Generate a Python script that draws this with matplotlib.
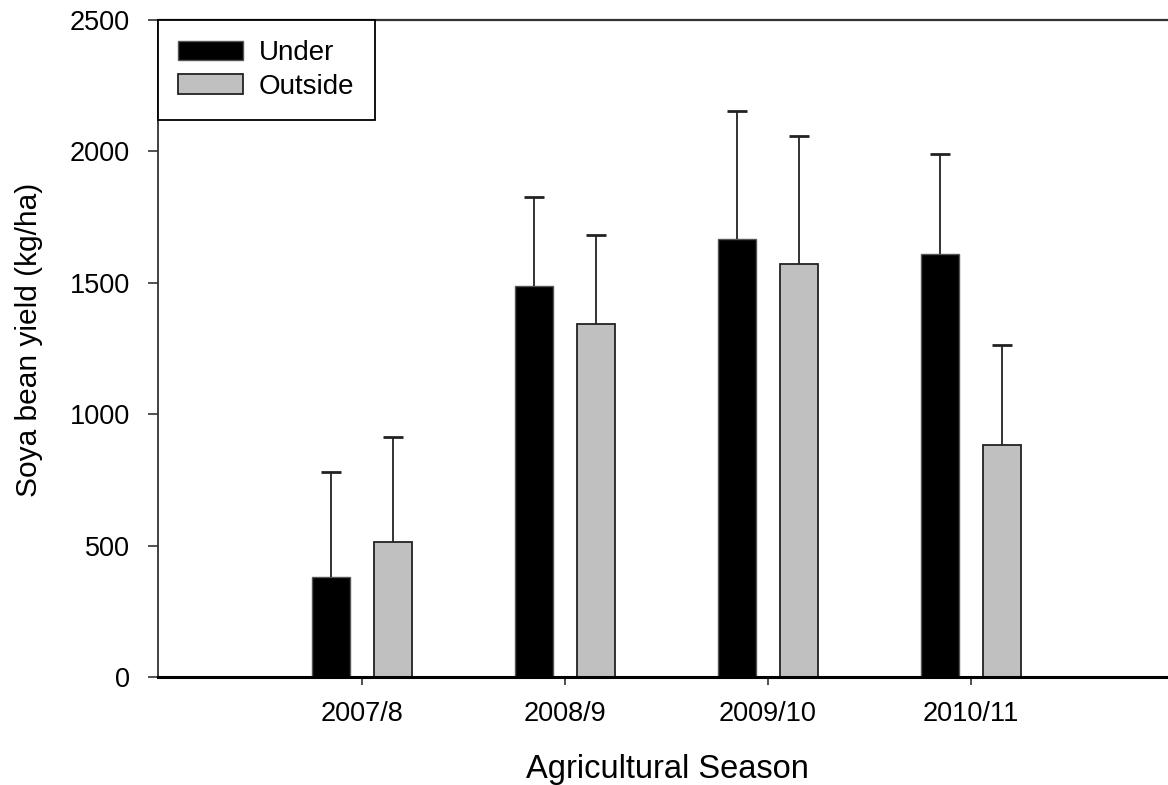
import numpy as np
import matplotlib.pyplot as plt

plt.rcParams['font.family'] = ['Liberation Sans', 'DejaVu Sans']

seasons = ['2007/8', '2008/9', '2009/10', '2010/11']
under = [382, 1488, 1667, 1610]
under_err = [399, 338, 487, 379]
outside = [514, 1344, 1572, 882]
outside_err = [400, 339, 487, 382]

x = np.arange(len(seasons))
w = 0.187
off = 0.152

fig = plt.figure(figsize=(11.68, 7.85), dpi=100)
ax = fig.add_axes([158/1168, 1-677/785, 1-158/1168, (677-20)/785])

ekw = dict(elinewidth=1.3, capthick=2.0, ecolor='#222222')
b1 = ax.bar(x-off, under, w, color='black', edgecolor='#555555', linewidth=1,
            yerr=[np.zeros(4), under_err], capsize=7, error_kw=ekw, label='Under')
b2 = ax.bar(x+off, outside, w, color='#c0c0c0', edgecolor='#222222', linewidth=1.3,
            yerr=[np.zeros(4), outside_err], capsize=7, error_kw=ekw, label='Outside')

# only the upper whisker gets a cap
for bars, vals in [(b1, under), (b2, outside)]:
    for cap in bars.errorbar.lines[1]:
        if np.allclose(cap.get_ydata(), vals):
            cap.set_visible(False)

ax.set_xlim(-1.005, 3.97)
ax.set_ylim(0, 2500)
ax.set_xticks(x)
ax.set_xticklabels(seasons)
ax.set_yticks([0, 500, 1000, 1500, 2000, 2500])

ax.spines['right'].set_visible(False)
ax.spines['left'].set_linewidth(1.3)
ax.spines['left'].set_color('#333333')
ax.spines['top'].set_linewidth(1.6)
ax.spines['top'].set_color('#333333')
ax.spines['bottom'].set_linewidth(2.2)
ax.spines['bottom'].set_color('black')

ax.tick_params(axis='y', direction='out', length=7, width=1.2, color='#333333',
               labelsize=19.5, pad=13)
ax.tick_params(axis='x', direction='out', length=6, width=1.2, color='#333333',
               labelsize=19.5, pad=11)

ax.set_ylabel('Soya bean yield (kg/ha)', fontsize=21.5)
ax.yaxis.set_label_coords(-0.1139, 0.513)
ax.set_xlabel('Agricultural Season', fontsize=23.5)
ax.xaxis.set_label_coords(0.504, -0.1165)

leg = ax.legend(loc='upper left', bbox_to_anchor=(0, 1), borderaxespad=0,
                fontsize=20, fancybox=False, edgecolor='black', framealpha=1,
                handlelength=2.33, handleheight=0.7, handletextpad=0.58,
                borderpad=0.73, labelspacing=0.27)
leg.get_frame().set_linewidth(1.3)

fig.savefig('out.png', dpi=100)
